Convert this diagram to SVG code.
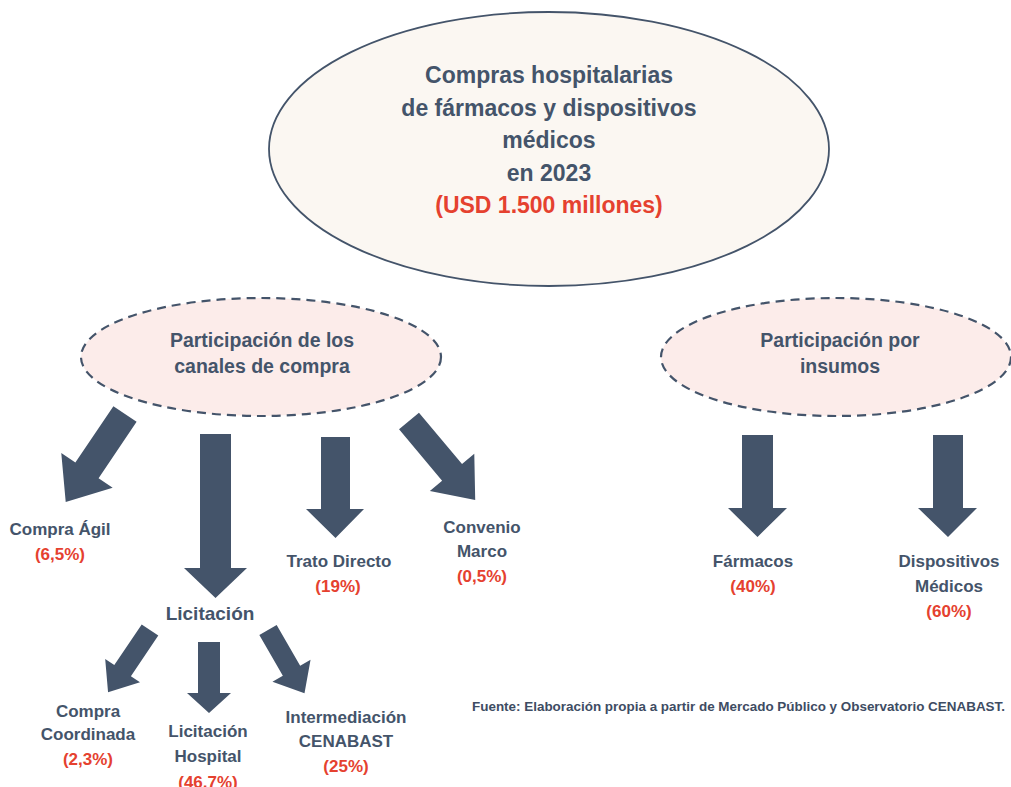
<svg xmlns="http://www.w3.org/2000/svg" width="1011" height="787" viewBox="0 0 1011 787">
<style>
.t{font-family:"Liberation Sans",Arial,sans-serif;font-weight:bold;fill:#44546A;text-anchor:middle}
.r{fill:#E5412F}
.main{font-size:23px}
.sub{font-size:19.5px}
.lab{font-size:17px}
.arrow{fill:#44546A}
.dash{fill:#FCECEA;stroke:#44546A;stroke-width:2.2;stroke-dasharray:9 6}
</style>
<rect width="1011" height="787" fill="#FFFFFF"/>
<g id="main">
<ellipse cx="549" cy="149" rx="280" ry="137" fill="#FBF7F2" stroke="#44546A" stroke-width="1.8"/>
<text class="t main" x="549" y="83">Compras hospitalarias</text>
<text class="t main" x="549" y="116">de fármacos y dispositivos</text>
<text class="t main" x="549" y="148">médicos</text>
<text class="t main" x="549" y="181">en 2023</text>
<text class="t main r" x="549" y="213">(USD 1.500 millones)</text>
</g>
<g id="canales">
<ellipse class="dash" cx="261" cy="357" rx="180" ry="59"/>
<text class="t sub" x="262" y="347">Participación de los</text>
<text class="t sub" x="262" y="373">canales de compra</text>
</g>
<g id="insumos">
<ellipse class="dash" cx="836" cy="357" rx="175" ry="59"/>
<text class="t sub" x="840" y="347">Participación por</text>
<text class="t sub" x="840" y="373">insumos</text>
</g>
<g id="connectors">
<path class="arrow" transform="translate(125,414) rotate(34)" d="M-14,0 H14 V68 H31 L0,106 L-31,68 H-14 Z"/>
<path class="arrow" d="M200,434 H231 V568 H247 L215.5,598 L184,568 H200 Z"/>
<path class="arrow" d="M321,437 H350 V509 H364 L335.5,538 L306,509 H321 Z"/>
<path class="arrow" transform="translate(409,421) rotate(-40)" d="M-13,0 H13 V67 H29 L0,103 L-29,67 H-13 Z"/>
<path class="arrow" transform="translate(150,630) rotate(34)" d="M-10,0 H10 V49 H21 L0,75 L-21,49 H-10 Z"/>
<path class="arrow" d="M198,642 H220 V693 H231 L209,713 L187,693 H198 Z"/>
<path class="arrow" transform="translate(268,630) rotate(-30)" d="M-10,0 H10 V47 H22 L0,73 L-22,47 H-10 Z"/>
<path class="arrow" d="M742,435 H773 V508 H787 L757.5,537 L728,508 H742 Z"/>
<path class="arrow" d="M933,435 H963 V508 H977 L948,537 L918,508 H933 Z"/>
</g>
<g id="compra-agil">
<text class="t lab" x="60" y="535">Compra Ágil</text>
<text class="t lab r" x="60" y="560">(6,5%)</text>
</g>
<g id="licitacion">
<text class="t" style="font-size:19px" x="210" y="620">Licitación</text>
</g>
<g id="trato-directo">
<text class="t lab" x="339" y="567">Trato Directo</text>
<text class="t lab r" x="338" y="592">(19%)</text>
</g>
<g id="convenio-marco">
<text class="t lab" x="482" y="533">Convenio</text>
<text class="t lab" x="482" y="557">Marco</text>
<text class="t lab r" x="482" y="582">(0,5%)</text>
</g>
<g id="compra-coordinada">
<text class="t lab" x="88" y="717">Compra</text>
<text class="t lab" x="88" y="740">Coordinada</text>
<text class="t lab r" x="88" y="765">(2,3%)</text>
</g>
<g id="licitacion-hospital">
<text class="t lab" x="208" y="737">Licitación</text>
<text class="t lab" x="208" y="762">Hospital</text>
<text class="t lab r" x="208" y="788">(46,7%)</text>
</g>
<g id="intermediacion">
<text class="t lab" x="346" y="723">Intermediación</text>
<text class="t lab" x="346" y="747">CENABAST</text>
<text class="t lab r" x="346" y="772">(25%)</text>
</g>
<g id="farmacos">
<text class="t lab" x="753" y="567">Fármacos</text>
<text class="t lab r" x="753" y="592">(40%)</text>
</g>
<g id="dispositivos">
<text class="t lab" x="949" y="567">Dispositivos</text>
<text class="t lab" x="949" y="592">Médicos</text>
<text class="t lab r" x="949" y="617">(60%)</text>
</g>
<g id="fuente">
<text x="472" y="711" style="font-family:'Liberation Sans',Arial,sans-serif;font-weight:bold;font-size:12px;fill:#3E4C63" textLength="533" lengthAdjust="spacingAndGlyphs">Fuente: Elaboración propia a partir de Mercado Público y Observatorio CENABAST.</text>
</g>
</svg>
